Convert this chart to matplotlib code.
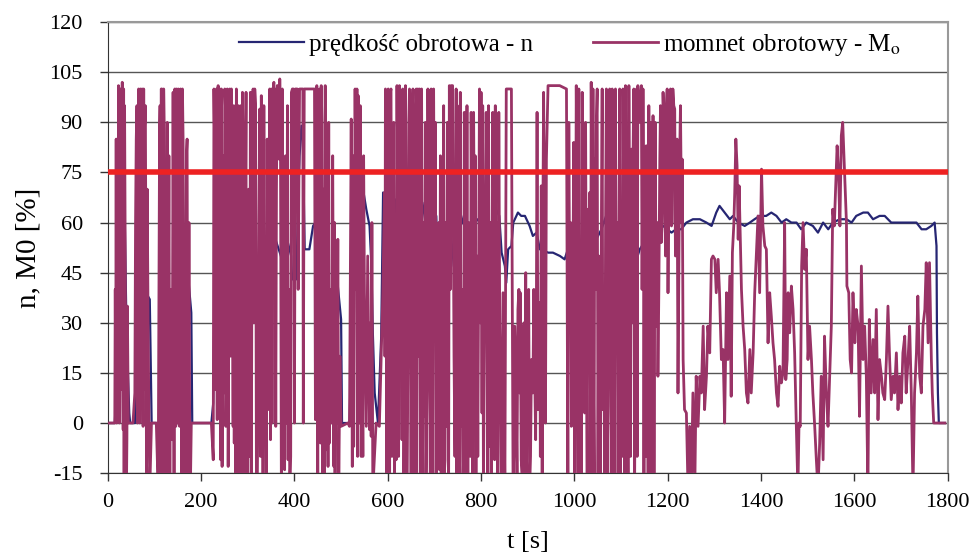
import numpy as np
import matplotlib
matplotlib.use("Agg")
import matplotlib.pyplot as plt

# ----------------------- data -----------------------
# predkosc obrotowa n [%]  (time [s], value)
speed_pts = [
    (0, 0), (15, 0), (18, 9), (22, 82), (25, 34), (29, 67), (33, 91), (40, 29), (46, 3), (48, 0),
    (58, 0), (61, 28), (63, 4), (66, 17), (68, 28), (82, 39), (90, 37), (94, 0), (120, 0),
    (122, 73), (126, 56), (129, 30), (133, 3), (136, 0), (162, 0), (165, 52), (169, 49),
    (179, 33), (181, 0), (222, 0), (226, 6), (229, 40), (236, 76), (244, 67), (251, 62),
    (258, 71), (269, 70), (272, 66), (276, 66), (279, 51), (283, 31), (290, 21), (291, 50),
    (297, 57), (311, 49), (315, 32), (320, 45), (336, 49), (340, 29), (347, 39), (354, 87),
    (357, 56), (371, 50), (378, 44), (382, 37), (386, 54), (393, 50), (395, 43), (404, 43),
    (408, 66), (411, 80), (415, 89), (418, 85), (422, 52), (432, 52), (440, 59), (445, 60),
    (468, 61), (472, 32), (475, 19), (493, 41), (500, 31), (502, 0), (518, 0), (525, 39),
    (547, 70), (554, 64), (561, 59), (565, 47), (568, 27), (572, 9), (579, 0), (586, 26),
    (590, 69), (600, 53), (614, 49), (618, 67), (629, 60), (640, 51), (650, 60), (657, 50),
    (672, 60), (679, 66), (686, 62), (704, 62), (707, 49), (715, 45), (718, 42), (725, 38),
    (729, 45), (736, 47), (739, 52), (750, 66), (761, 60), (772, 57), (782, 60), (793, 61),
    (804, 57), (811, 65), (822, 47), (832, 64), (839, 62), (844, 51), (851, 47), (854, 42),
    (858, 52), (865, 53), (869, 60), (879, 63), (886, 62), (894, 62), (904, 59), (911, 56),
    (919, 57), (926, 52), (944, 51), (954, 51), (969, 50), (979, 49), (986, 52), (994, 56),
    (1001, 58), (1008, 53), (1015, 49), (1026, 49), (1036, 51), (1047, 55), (1058, 58),
    (1068, 62), (1083, 60), (1097, 58), (1108, 59), (1115, 53), (1122, 50), (1129, 47),
    (1140, 52), (1154, 55), (1168, 58), (1176, 60), (1190, 59), (1208, 57), (1218, 58),
    (1229, 58), (1240, 60), (1254, 61), (1269, 61), (1283, 60), (1294, 59), (1304, 63),
    (1311, 65), (1322, 63), (1333, 61), (1340, 62), (1351, 60), (1365, 59), (1376, 60),
    (1386, 61), (1397, 62), (1411, 62), (1422, 63), (1433, 62), (1444, 60), (1454, 61),
    (1465, 60), (1476, 60), (1486, 58), (1497, 60), (1511, 59), (1522, 57), (1533, 60),
    (1544, 58), (1554, 60), (1569, 61), (1583, 61), (1594, 60), (1604, 62), (1619, 63),
    (1629, 63), (1640, 61), (1654, 62), (1665, 62), (1679, 60), (1690, 60), (1704, 60),
    (1719, 60), (1733, 60), (1744, 58), (1754, 58), (1765, 59), (1772, 60), (1776, 53),
    (1777, 27), (1779, 9), (1781, 0), (1794, 0),
]

# momnet obrotowy Mo [%]  (time [s], value) - values below -15 run off the axis
torque_pts = [
    (0, 0), (15, 0), (17, 9), (19, 0), (20, 76), (21, 82), (23, 101), (25, 0), (27, 100),
    (29, 75), (31, 102), (33, -2), (35, -20), (37, 60), (39, -20), (41, -5), (44, 0), (54, 0),
    (58, 9), (61, 85), (63.6, 0), (66, 100), (68.6, 0), (70, 100), (72, 97), (73.6, 100),
    (75.7, -1), (79, 89), (83, -20), (86.4, 29), (90, -20), (93.6, 0), (104, 0), (108, -20),
    (111, 87), (113, -20), (116, 100), (118.6, -20), (121, 88), (123, -20), (126, -20),
    (129, -6), (133, -20), (136.5, 0), (140, 99), (142, -20), (143.6, 100), (145.7, -1),
    (147, 100), (149, 0), (151, 100), (154, -1), (156, 100), (158.6, -20), (161.4, 85),
    (165, -20), (167, -1), (170, 85), (172, -20), (175.7, -9), (179, 0), (222, 0),
    (226, -11), (229, 83), (233, 100), (234.5, 1), (236.5, 101), (238.6, 79), (240, 100),
    (242, -11), (245, -13), (248.6, 9), (250.7, 100), (253, -1), (256, 100), (258, -13),
    (261.4, 100), (265, 100), (268.6, -1), (271, -6), (274.3, -20), (277, -6), (279, 4),
    (281, -20), (284, 79), (286.4, -20), (288.6, 99), (291.4, -20), (295.7, 85), (297, -20),
    (300, -20), (303, 19), (305.6, 99), (307.7, -20), (311.4, 100), (315, 100), (318.6, -20),
    (322, 9), (325.7, 94), (329, 98), (332.7, -20), (336.4, -1), (340, -20), (343.5, 4),
    (347, 100), (350.6, 100), (352, 0), (354, 99), (356, 102), (358, 100), (360, -1),
    (363, 101), (365, 101), (367, 79), (368.6, 103), (372, -20), (375.6, 49), (379, -14),
    (383, 0), (386.4, -11), (390, -20), (393.5, 99), (395.6, 100), (398, 100), (400, 0),
    (402, 100), (406, 100), (408, 40), (411, 100), (418, 100), (419, 0), (421, 100),
    (443, 100), (445, 1), (448, 101), (450, -20), (454, 100), (456, -6), (457.4, 101),
    (461, -20), (464.6, -20), (468, -8), (472, -13), (475, -6), (479, 0), (482, 80),
    (484.5, -13), (487, -20), (491, 0), (495, -20), (500, -1), (514.5, 0), (518, -1),
    (521.7, 91), (524, -13), (527, -7), (530, 100), (534, 100), (536.7, 98), (539.5, 0),
    (543, -10), (546.7, -10), (550, 39), (554, -1), (561, -2), (564.5, -4), (568, -20),
    (575, 0), (582, -1), (589.5, 39), (593, 69), (595, 100), (598, -20), (601, 100),
    (604, -20), (607, 100), (611, 79), (614.5, -20), (618, -11), (621.6, 49), (625, 101),
    (629, 99), (632, 100), (634.5, -20), (638, 101), (641, -20), (646.6, 100), (654, 100),
    (656, -20), (659.5, 89), (662, -20), (664.5, 100), (668, 100), (670, -20), (675, -20),
    (679, 2), (682, -20), (686, 100), (693, 100), (696.6, -20), (700, 44), (704, -20),
    (707, -1), (711, -14), (714.5, -20), (718, 19), (721.6, -20), (725, -1), (726.6, 11),
    (729, -11), (732, 101), (736, 101), (739, 101), (746.6, 100), (748, -20), (750, 14),
    (754, -20), (757, -1), (761, -20), (764, 93), (768, -20), (771.6, -20), (775, 24),
    (778.7, 93), (782, -20), (786, 39), (789, -20), (796.6, 100), (800, 99), (802, 3),
    (805, -20), (811, 93), (814, -20), (818, -7), (821.6, -20), (825, 93), (829, -11),
    (832, -9), (836, -20), (840, 30), (844, -20), (847, 39), (851, -20), (854, 100),
    (865, 100), (868.6, -20), (872, 29), (875.7, -1), (879, 34), (883, 9), (884, 39),
    (886, -11), (890, 27), (893.6, -20), (895.7, 45), (898.5, 9), (900.7, 29), (904, -20),
    (908, 19), (911, 9), (915, 14), (918.5, 34), (920, 93), (922, 4), (925.7, 36), (929, 71),
    (931, -20), (934, 99), (938, 0), (940, 79), (943.5, 101), (954, 101), (968.5, 101),
    (983, 100), (986, -20), (990, 34), (993.5, -1), (998.5, 84), (1000.7, -20), (1004, 101),
    (1008, -20), (1011, -1), (1015, -20), (1018.5, 69), (1022, 3), (1025.7, 19), (1029, 64),
    (1033, 69), (1036, 102), (1038.5, -20), (1041, 9), (1043.5, 79), (1047, 89),
    (1050.6, -20), (1054, 19), (1058, 64), (1061, 4), (1065, -20), (1068.5, 100), (1072, 5),
    (1075.6, 100), (1079, -20), (1083, 39), (1086, -20), (1090, 29), (1093.5, -20),
    (1097, 100), (1100.6, 64), (1104, 100), (1108, -20), (1111, 59), (1115, -20),
    (1118.5, 39), (1122, 82), (1125.6, 79), (1129, -20), (1133, 100), (1136, 101),
    (1143.5, 101), (1147, 100), (1149, -20), (1152, 24), (1154, 83), (1158, -20), (1161, 49),
    (1165, -20), (1168.5, 92), (1170.6, -20), (1175.6, 29), (1179, 14), (1183, 79),
    (1186, 54), (1190, 99), (1193.5, 69), (1197, 94), (1200.6, 39), (1204, 93), (1208, 59),
    (1211, 100), (1215, 94), (1218, 79), (1222, 9), (1225.6, 80), (1229, 69), (1231, 79),
    (1233, 19), (1236, 4), (1240, 3), (1243.5, -20), (1247, -1), (1250.6, -20), (1254, 9),
    (1258, -20), (1261, 14), (1265, -1), (1269, 14), (1272, 9), (1276, 29), (1279, 4),
    (1283, 14), (1286, 29), (1290, 21), (1293.6, 49), (1297, 50), (1301, 49), (1304, 39),
    (1308, 49), (1311, 39), (1315, 19), (1318.6, 22), (1322, 0), (1326, 39), (1329, 19),
    (1333, 44), (1336, 8), (1338.6, 51), (1341.5, 59), (1343.6, 69), (1346, 85),
    (1348.6, 77), (1351, 55), (1353, 71), (1355.7, 54), (1358, 40), (1361.5, 29), (1365, 22),
    (1368.6, 9), (1372, 6), (1376, 22), (1379, 9), (1383, 21), (1386.4, 39), (1390, 51),
    (1393.5, 62), (1397, 39), (1401, 76), (1404, 59), (1408, 53), (1411.4, 52), (1415, 24),
    (1418.5, 39), (1422, 32), (1425.6, 24), (1429, 19), (1433, 9), (1436.4, 5), (1440, 17),
    (1443.5, 12), (1447, 15), (1450.6, 60), (1453, 13), (1456, 19), (1458, 39),
    (1461.4, 27), (1465, 41), (1468.6, 34), (1472, 21), (1475.6, -1), (1479, -20),
    (1481.4, 0), (1484, -1), (1487, 47), (1490, 60), (1493.5, 46), (1497, 52), (1500.6, 19),
    (1504, 29), (1508, 19), (1511, 9), (1515, -1), (1518.5, -11), (1522, -20), (1525.6, -6),
    (1529, 14), (1533, -11), (1536, 26), (1540, 9), (1543.5, -1), (1547, 14), (1550.6, 29),
    (1553.6, 64), (1557, 59), (1560, 71), (1563, 83), (1566, 75), (1569, 59), (1572, 86),
    (1575, 90), (1583, 60), (1584, 41), (1588, 39), (1591, 19), (1594, 15), (1597, 39),
    (1601, 24), (1604, 34), (1608, 29), (1611, 2), (1615, 47), (1618.6, 19), (1622, 29),
    (1625.6, 14), (1629, -20), (1632, 31), (1636, 9), (1640, 25), (1643.5, 9), (1647, 34),
    (1650.6, 1), (1654, 19), (1658, 14), (1661, 9), (1665, 7), (1668.6, 19), (1672, 35),
    (1675.6, 19), (1679, 7), (1683, 14), (1686, 9), (1690, 21), (1693.5, 4), (1697, 14),
    (1700.6, 6), (1704, 21), (1708, 26), (1711, 9), (1715, 19), (1718.5, 29), (1722, 9),
    (1725.6, -20), (1729, 9), (1733, 21), (1736, 38), (1740, 14), (1743.5, 9), (1747, 29),
    (1751, 34), (1754, 48), (1758, 24), (1761, 48), (1765, 19), (1767, 9), (1770, 0),
    (1794, 0),
]

# extra strokes in the bands where the torque trace is too dense to separate
torque_dense = [
    (16, 40), (18, 85), (22, 20), (24, 95), (26, 60), (28, 10), (30, 90), (32, 15), (34, 100),
    (36, 95), (38, 30), (40, -20), (42, 35),
    (59.5, 60), (62.5, 95), (65, 20), (67.3, 90), (69.3, 40), (71, 5), (74.5, 30), (77, 100),
    (78, 10), (80.5, 95), (82, 40), (84.5, 70), (88, 5),
    (109.5, 30), (112, 95), (114.5, 100), (117.5, 10), (119.8, 100), (122, 60), (124.5, 75),
    (127.5, 90), (131, 80), (134.5, 40), (138, -5), (141, 40), (144.5, 20), (146.4, 95),
    (148, 10), (150, 95), (152.5, 5), (155, 85), (157.3, 20), (160, 100), (163, 30),
    (168.5, 80), (171, 20), (174, 60), (177, -20),
    (227.5, 100), (231, 10), (235.5, 95), (237.5, 20), (241, 70), (243.5, 100), (247, 80),
    (249.6, 40), (252, 95), (254.5, 20), (257, 95), (259.7, 50), (263, 20), (266.8, 60),
    (270, 95), (272.6, 70), (275.6, 100), (278, 50), (280, 95), (282.5, 30), (285.2, 95),
    (287.5, 10), (290, 80), (293.5, 30), (296.3, 99), (298.5, 60),
    (302, 70), (304.3, -10), (306.6, 50), (309.5, 85), (313, 30), (316.8, 95), (320.3, -20),
    (323.8, 60), (327.3, -10), (331, 60), (334.5, 95), (338, 30), (341.7, 85), (345, 40),
    (348.8, -5), (351.3, 60), (357, 40), (361.5, 70), (370, 90), (374, 100), (377.5, -5),
    (381, 80), (385, 95), (388, 40), (392, -10),
    (446.5, 60), (449, 20), (452, 95), (455, 30), (459, 90), (462.8, 70), (466, 101),
    (470, 60), (473.5, 90), (477, 40), (480.5, 20), (486, 60), (489, 35), (493, 55),
    (497.5, 20),
    (525.5, 80), (528.5, 30), (532, 40), (535.5, -10), (538, 70), (541, 95), (545, 30),
    (548.3, 80), (552, 20), (557, 50), (563, 30), (566, 60),
    (594, 20), (596.5, 90), (599.5, 80), (602.5, 40), (605.5, 99), (609, -10), (612.8, 90),
    (616.3, 40), (619.8, 101), (623.3, -10), (627, 50), (630.5, -5), (633.3, 80),
    (636.3, 30), (639.5, 90), (643.8, 30), (650, -15), (652, 90), (657.8, 40), (661, 100),
    (663.3, 30), (666, 20), (669, 85), (672.5, 100), (677, 60), (680.5, 90), (684, 10),
    (689, 30), (691, -15), (694.8, 60), (698.3, 100), (702, 90), (705.5, 40),
    (709, 60), (712.8, 80), (716, 40), (719.8, 95), (723.3, 60), (727.8, 90), (730.5, -15),
    (734, 40), (742, 20), (744, -10), (749, 95), (752, 60), (755.5, 99), (759, 40),
    (762.5, -10), (766, 60), (769.8, 95), (773.3, 60), (777, -10), (780.3, 50), (784, 93),
    (787.5, 80), (791, 50), (793, -10), (798.3, 30), (803.5, 95), (808, 40), (812.5, 60),
    (816, 95), (819.8, 60), (823.3, 40), (827, 60), (830.5, 95), (834, 60), (838, 93),
    (870, -10), (874, 20), (877, -15), (881, 40), (888, -15), (892, 30), (897, -15),
    (902, 40), (906, -10), (913, 40), (917, -5), (927, -10), (932, 50), (936, 60),
    (988, 90), (992, 60), (996, 20), (999.6, 60), (1002.3, 30), (1006, 60), (1009.5, 100),
    (1013, 50), (1016.8, 99), (1020, 30), (1024, 90), (1027.4, -15), (1031, 30),
    (1034.5, -15), (1037.3, 60), (1039.8, 100), (1042.3, -15), (1045.3, 40), (1048.8, 100),
    (1052.3, 50), (1056, -15), (1059.5, 100), (1063, 40), (1066.8, 60), (1070.3, -15),
    (1073.8, 60), (1077.3, 40), (1081, 100), (1084.5, 70), (1088, 100), (1091.8, 60),
    (1095.3, 40), (1098.8, -15), (1102.3, -10), (1106, 60), (1109.5, 101), (1113, 40),
    (1116.8, 101), (1120.3, -10), (1123.8, 30), (1127.3, 100), (1131, 40), (1134.5, -10),
    (1139, 90), (1145, 40), (1148, 80), (1150.5, 70), (1153, -10), (1156, 60), (1159.5, 95),
    (1163, 90), (1166.8, -15), (1169.5, 60), (1173, 90), (1177.3, 60), (1181, 40),
    (1184.5, 95), (1188, 60), (1191.8, 90), (1195.3, 50), (1198.8, 100), (1202.3, 70),
    (1206, 100), (1209.5, 60), (1213, 95), (1216.5, 50), (1220, 85), (1224, 50),
    (1227.3, 95), (1230, 60),
]

limit_level = 75  # red reference line

t_n, n_val = np.array(speed_pts).T
mo_all = np.array(sorted(torque_pts + torque_dense))
t_mo, mo_val = mo_all.T

# ----------------------- plot -----------------------
plt.rcParams['font.family'] = ['Liberation Serif', 'DejaVu Serif']
plt.rcParams['mathtext.fontset'] = 'stix'
plt.rcParams['axes.unicode_minus'] = False

fig = plt.figure(figsize=(9.71, 5.54), dpi=100)
ax = fig.add_axes([0.111, 0.146, 0.865, 0.814])

ax.plot(t_n, n_val, color='#262673', lw=1.6, label='prędkość obrotowa - n', zorder=3)
ax.plot(t_mo, mo_val, color='#993366', lw=2.0, label='momnet obrotowy - M$_\\mathrm{o}$', zorder=4)
ax.axhline(limit_level, color='#ee2222', lw=4, zorder=5)

ax.set_xlim(0, 1800)
ax.set_ylim(-15, 120)
ax.set_xticks(np.arange(0, 1801, 200))
ax.set_yticks(np.arange(-15, 121, 15))
ax.yaxis.grid(True, color='#555555', lw=1)
ax.set_axisbelow(True)
ax.tick_params(labelsize=16, direction='out', length=6, width=1, color='#333333')
ax.tick_params(axis='y', pad=12)
ax.tick_params(axis='x', pad=8)

for side in ['top', 'right']:
    ax.spines[side].set_color('#999999')
    ax.spines[side].set_linewidth(1.5)
for side in ['left', 'bottom']:
    ax.spines[side].set_color('#333333')

ax.set_xlabel('t [s]', fontsize=19, labelpad=14)
ax.set_ylabel('n, M0 [%]', fontsize=21, labelpad=6)

ax.legend(loc='center', bbox_to_anchor=(0.55, 0.949), ncol=2, frameon=False,
          fontsize=18, handlelength=2.6, columnspacing=2.4, handletextpad=0.2)

fig.savefig('out.png', dpi=100)
